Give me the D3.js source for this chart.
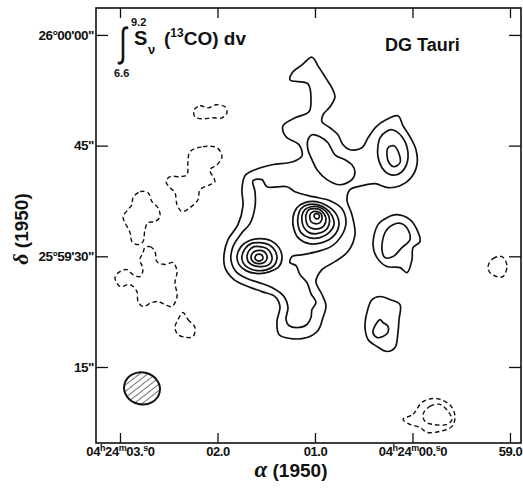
<!DOCTYPE html>
<html><head><meta charset="utf-8">
<script src="https://cdn.jsdelivr.net/npm/d3@7"></script>
<style>
body{margin:0;background:#fff}
svg{display:block}
text{font-family:"Liberation Sans",Arial,Helvetica,sans-serif;fill:#111}
</style>
</head><body>
<svg id="chart" width="523" height="493"></svg>
<script>
// ---- axes ----
const raTicks = [3, 2, 1, 0, -1];                       // seconds of RA past 04h24m
const raTickLabels = ["04h24m03.s0", "02.0", "01.0", "04h24m00.s0", "59.0"];
const decTicks = [15, 30, 45, 60];                       // arcsec past 25°59'00"
const decTickLabels = ['15"', '25°59\'30"', '45"', '26°00\'00"'];
const raExtent = [3.246, -1.113];
const decExtent = [4.7, 63.65];

// ---- positive (solid) contours: [RA s, Dec arcsec] ----
const contourOuter = [[1.031,56.98],[0.969,55.81],[0.897,54.32],[0.826,52.83],[0.795,51.61],[0.846,50.26],[0.918,49.18],[0.928,48.23],[0.846,47.42],[0.764,46.47],[0.713,45.12],[0.641,44.44],[0.518,44.71],[0.456,46.06],[0.374,47.55],[0.272,48.50],[0.149,49.04],[0.097,47.69],[0.026,46.20],[-0.036,44.44],[-0.046,42.41],[0.015,40.65],[0.128,39.57],[0.251,39.30],[0.385,39.84],[0.518,39.57],[0.641,39.03],[0.672,37.67],[0.621,35.64],[0.590,32.94],[0.662,30.64],[0.795,29.28],[0.928,28.20],[0.990,26.58],[0.928,24.82],[0.887,23.33],[0.918,21.70],[0.969,19.95],[1.082,19.00],[1.256,18.86],[1.369,19.40],[1.390,21.16],[1.359,23.20],[1.410,24.55],[1.544,25.22],[1.687,25.91],[1.831,26.85],[1.923,28.47],[1.933,30.23],[1.892,32.26],[1.790,34.29],[1.738,36.86],[1.749,39.03],[1.718,40.92],[1.615,41.73],[1.441,42.41],[1.226,42.82],[1.133,43.63],[1.164,45.12],[1.297,46.20],[1.328,47.69],[1.205,48.77],[1.062,49.58],[1.041,51.20],[1.072,53.37],[1.256,53.91],[1.226,55.00],[1.133,55.94]];
const contourSecond = [[1.636,40.24],[1.544,40.39],[1.492,39.43],[1.287,39.43],[1.205,38.76],[1.021,38.08],[0.846,37.54],[0.723,36.45],[0.682,34.56],[0.733,32.67],[0.836,31.31],[0.979,30.64],[1.123,30.23],[1.236,29.96],[1.256,29.15],[1.195,28.74],[1.154,27.52],[1.082,26.44],[1.041,24.95],[0.990,23.74],[1.031,22.79],[1.041,21.70],[1.082,20.76],[1.174,20.35],[1.267,20.62],[1.297,21.43],[1.277,23.06],[1.318,24.55],[1.441,25.76],[1.574,26.44],[1.697,26.98],[1.810,27.93],[1.862,29.55],[1.841,31.31],[1.749,33.21],[1.667,34.42],[1.615,36.72],[1.615,38.76]];
const contourNorthLoop = [[1.072,45.79],[1.031,46.47],[0.949,46.20],[0.867,45.39],[0.795,43.76],[0.692,43.09],[0.621,42.41],[0.590,41.46],[0.621,40.39],[0.744,39.70],[0.877,40.39],[0.979,41.73],[1.031,43.09],[1.072,44.44]];
const centralRings = [
  [[1.226,35.24],[1.185,36.59],[1.103,37.27],[0.990,37.40],[0.877,36.86],[0.785,35.78],[0.754,34.29],[0.805,32.80],[0.928,31.85],[1.062,31.72],[1.164,32.39],[1.215,33.61]],
  [[1.174,35.37],[1.144,36.45],[1.072,37.00],[0.979,37.00],[0.887,36.45],[0.826,35.51],[0.805,34.29],[0.856,33.21],[0.949,32.53],[1.062,32.53],[1.144,33.21],[1.174,34.29]],
  [[1.133,35.51],[1.103,36.32],[1.041,36.72],[0.969,36.72],[0.897,36.18],[0.856,35.37],[0.856,34.29],[0.897,33.48],[0.979,33.07],[1.062,33.21],[1.113,33.88],[1.133,34.70]],
  [[1.092,35.64],[1.062,36.32],[1.010,36.45],[0.949,36.32],[0.908,35.78],[0.887,35.10],[0.908,34.15],[0.959,33.75],[1.021,33.75],[1.072,34.15],[1.092,34.83]],
  [[1.051,35.64],[1.021,36.05],[0.979,36.05],[0.938,35.78],[0.928,35.10],[0.949,34.56],[1.000,34.42],[1.041,34.70]],
  [[1.010,35.51],[0.990,35.78],[0.959,35.64],[0.959,35.24],[0.990,35.10]]
];
const westRings = [
  [[1.800,29.96],[1.759,31.31],[1.677,32.12],[1.564,32.39],[1.451,32.12],[1.369,31.18],[1.338,29.82],[1.369,28.61],[1.462,27.93],[1.585,27.66],[1.708,28.06],[1.779,28.88]],
  [[1.749,29.96],[1.718,31.04],[1.656,31.72],[1.564,31.85],[1.472,31.58],[1.410,30.77],[1.390,29.69],[1.421,28.74],[1.492,28.20],[1.595,28.06],[1.687,28.47],[1.738,29.15]],
  [[1.697,29.82],[1.677,30.77],[1.626,31.31],[1.564,31.31],[1.492,31.04],[1.451,30.37],[1.441,29.55],[1.472,28.88],[1.544,28.61],[1.626,28.74],[1.677,29.15]],
  [[1.656,29.82],[1.636,30.50],[1.595,30.77],[1.544,30.77],[1.503,30.37],[1.492,29.69],[1.523,29.15],[1.585,29.01],[1.636,29.28]],
  [[1.615,29.82],[1.595,30.23],[1.554,30.23],[1.533,29.82],[1.554,29.42],[1.595,29.42]]
];
const northEastRings = [
  [[0.333,46.06],[0.272,46.88],[0.210,47.15],[0.108,46.20],[0.046,44.04],[0.077,42.00],[0.159,41.06],[0.251,41.20],[0.313,42.00],[0.354,43.49],[0.354,44.98]],
  [[0.251,44.71],[0.190,44.98],[0.138,43.90],[0.128,42.68],[0.190,42.14],[0.241,42.68],[0.262,43.76]]
];
const eastRings = [
  [[0.405,31.58],[0.354,34.29],[0.262,35.24],[0.159,35.64],[0.026,34.97],[-0.046,33.61],[-0.077,31.99],[-0.005,31.18],[0.005,29.55],[0.056,27.79],[0.128,28.47],[0.262,28.61],[0.364,29.82]],
  [[0.313,30.91],[0.282,33.21],[0.200,34.29],[0.108,34.42],[0.046,33.61],[0.026,32.26],[0.108,31.18],[0.200,29.96],[0.282,29.82]]
];
const southEastRings = [
  [[0.467,22.38],[0.415,24.14],[0.333,24.55],[0.231,24.14],[0.128,23.46],[0.138,21.43],[0.149,19.68],[0.179,17.64],[0.262,17.10],[0.364,17.78],[0.456,18.73],[0.487,20.49]],
  [[0.405,19.68],[0.364,21.03],[0.333,21.43],[0.303,21.03],[0.251,20.49],[0.251,19.68],[0.303,19.13],[0.364,19.00]]
];

// ---- negative (dashed) contours ----
const negContours = [
  [[2.241,49.85],[2.179,50.39],[2.097,50.12],[2.015,50.53],[1.923,50.26],[1.903,49.45],[1.954,48.77],[2.056,48.77],[2.149,48.63],[2.231,48.91]],
  [[2.282,44.17],[2.149,44.86],[2.005,44.71],[1.954,43.49],[2.005,42.41],[2.077,41.73],[2.026,40.11],[2.077,39.70],[2.179,39.03],[2.200,37.67],[2.282,36.59],[2.364,36.05],[2.415,37.00],[2.436,38.62],[2.487,39.30],[2.528,40.11],[2.487,40.79],[2.385,40.79],[2.313,41.06],[2.303,42.68]],
  [[2.867,37.94],[2.795,38.76],[2.713,38.62],[2.672,37.40],[2.610,36.59],[2.590,35.37],[2.641,34.70],[2.713,34.56],[2.744,33.61],[2.764,31.99],[2.815,31.58],[2.877,31.99],[2.897,33.21],[2.949,34.56],[2.969,35.37],[2.918,36.32],[2.877,37.00]],
  [[2.744,31.18],[2.692,31.31],[2.641,30.64],[2.621,29.28],[2.538,28.88],[2.456,29.15],[2.415,27.93],[2.436,26.44],[2.415,24.55],[2.467,23.20],[2.538,23.46],[2.610,23.87],[2.672,23.74],[2.764,23.20],[2.815,23.87],[2.826,25.22],[2.897,26.18],[3.000,25.91],[3.051,27.12],[3.000,27.93],[2.928,28.20],[2.867,27.52],[2.795,27.25],[2.764,28.20],[2.795,29.55],[2.764,30.50]],
  [[2.354,22.38],[2.303,21.43],[2.231,20.35],[2.251,19.13],[2.313,19.00],[2.405,19.40],[2.436,20.35],[2.405,21.43]],
  [[-0.774,28.61],[-0.826,29.69],[-0.918,29.96],[-0.969,28.74],[-0.928,27.25],[-0.867,27.25],[-0.795,27.79]],
  [[0.097,7.90],[-0.005,8.59],[-0.097,10.20],[-0.210,10.74],[-0.313,10.47],[-0.405,9.53],[-0.436,8.18],[-0.405,6.95],[-0.282,6.28],[-0.149,6.14],[-0.077,6.82],[0.026,7.22]],
  [[-0.108,8.59],[-0.179,9.66],[-0.282,9.93],[-0.364,8.99],[-0.405,7.90],[-0.354,7.22],[-0.210,7.22],[-0.128,7.64]]
];

// ---- beam ----
const beamCenter = [2.774, 12.10];   // RA s, Dec arcsec
const beamHalfAxes = [0.185, 2.17];  // RA s, Dec arcsec
const beamAngle = 12;

// ================= drawing =================
const svg = d3.select("#chart");
const x = d3.scaleLinear().domain(raExtent).range([96, 521]);
const y = d3.scaleLinear().domain(decExtent).range([443, 8]);

const solid = [contourOuter, contourSecond, contourNorthLoop, ...centralRings, ...westRings,
               ...northEastRings, ...eastRings, ...southEastRings];

const line = d3.line().x(d => x(d[0])).y(d => y(d[1]))
  .curve(d3.curveCatmullRomClosed.alpha(0.5));

const g = svg.append("g");
g.selectAll("path.pos").data(solid).join("path")
  .attr("class", "pos").attr("d", line)
  .attr("fill", "none").attr("stroke", "#111").attr("stroke-width", 1.7)
  .attr("stroke-linejoin", "round");
g.selectAll("path.neg").data(negContours).join("path")
  .attr("class", "neg").attr("d", line)
  .attr("fill", "none").attr("stroke", "#111").attr("stroke-width", 1.4)
  .attr("stroke-dasharray", "4.5,3");

// beam with hatching
const defs = svg.append("defs");
const pat = defs.append("pattern").attr("id", "hatch").attr("patternUnits", "userSpaceOnUse")
  .attr("width", 5).attr("height", 5).attr("patternTransform", "rotate(40)");
pat.append("line").attr("x1", 0).attr("y1", 0).attr("x2", 0).attr("y2", 5)
  .attr("stroke", "#111").attr("stroke-width", 1.2);
const bx = x(beamCenter[0]), by = y(beamCenter[1]);
svg.append("ellipse")
  .attr("cx", bx).attr("cy", by)
  .attr("rx", Math.abs(x(beamCenter[0] - beamHalfAxes[0]) - bx))
  .attr("ry", Math.abs(y(beamCenter[1] + beamHalfAxes[1]) - by))
  .attr("transform", `rotate(${beamAngle},${bx},${by})`)
  .attr("fill", "url(#hatch)").attr("stroke", "#111").attr("stroke-width", 2);

// frame
svg.append("rect")
  .attr("x", x(raExtent[0])).attr("y", y(decExtent[1]))
  .attr("width", x(raExtent[1]) - x(raExtent[0]))
  .attr("height", y(decExtent[0]) - y(decExtent[1]))
  .attr("fill", "none").attr("stroke", "#111").attr("stroke-width", 1.6);

// axes
function styleAxis(sel) {
  sel.select(".domain").remove();
  sel.selectAll(".tick line").attr("stroke", "#111").attr("stroke-width", 1.3);
}
const axB = svg.append("g").attr("transform", `translate(0,${y(decExtent[0])})`)
  .call(d3.axisBottom(x).tickValues(raTicks).tickSizeInner(-10).tickSizeOuter(0).tickFormat(""))
  .call(styleAxis);
svg.append("g").attr("transform", `translate(0,${y(decExtent[1])})`)
  .call(d3.axisTop(x).tickValues(raTicks).tickSizeInner(-10).tickSizeOuter(0).tickFormat(""))
  .call(styleAxis);
const axL = svg.append("g").attr("transform", `translate(${x(raExtent[0])},0)`)
  .call(d3.axisLeft(y).tickValues(decTicks).tickSizeInner(-12).tickSizeOuter(0).tickPadding(2)
    .tickFormat((d, i) => decTickLabels[i]))
  .call(styleAxis);
svg.append("g").attr("transform", `translate(${x(raExtent[1])},0)`)
  .call(d3.axisRight(y).tickValues(decTicks).tickSizeInner(-12).tickSizeOuter(0).tickFormat(""))
  .call(styleAxis);

axL.selectAll(".tick text")
  .attr("font-family", '"Liberation Sans",Arial,sans-serif')
  .attr("font-size", 13.5).attr("font-weight", "bold").attr("letter-spacing", -0.5)
  .attr("fill", "#111");

// bottom tick labels with raised h/m/s
axB.selectAll(".tick text").remove();
axB.selectAll(".tick").each(function (d, i) {
  const t = d3.select(this).append("text")
    .attr("y", 13).attr("text-anchor", "middle")
    .attr("font-size", 13).attr("font-weight", "bold").attr("letter-spacing", -0.4)
    .attr("fill", "#111");
  const s = raTickLabels[i];
  let buf = "", pendingDy = 0;
  const flush = () => {
    if (buf) {
      const sp = t.append("tspan").text(buf);
      if (pendingDy) sp.attr("dy", pendingDy);
      pendingDy = 0; buf = "";
    }
  };
  for (const ch of s) {
    if (ch === "h" || ch === "m" || ch === "s") {
      flush();
      t.append("tspan").attr("font-size", 9).attr("dy", -5).text(ch);
      pendingDy = 5;
    } else buf += ch;
  }
  flush();
});

// axis titles
const ta = svg.append("text").attr("x", 291).attr("y", 477).attr("text-anchor", "middle")
  .attr("font-size", 19).attr("font-weight", "bold");
ta.append("tspan").attr("font-family", '"Liberation Serif","Times New Roman",serif')
  .attr("font-style", "italic").attr("font-size", 23).text("α");
ta.append("tspan").text("  (1950)");

const td = svg.append("text").attr("transform", "translate(28,229) rotate(-90)")
  .attr("text-anchor", "middle").attr("font-size", 19).attr("font-weight", "bold");
td.append("tspan").attr("font-family", '"Liberation Serif","Times New Roman",serif')
  .attr("font-style", "italic").attr("font-size", 22).text("δ");
td.append("tspan").text(" (1950)");

// annotations
svg.append("text").attr("transform", "translate(119,56) scale(1,1.45)")
  .attr("font-family", '"DejaVu Sans",sans-serif').attr("font-size", 28).text("∫");
svg.append("text").attr("x", 131).attr("y", 26).attr("font-size", 11).attr("font-weight", "bold").text("9.2");
svg.append("text").attr("x", 114).attr("y", 77).attr("font-size", 11).attr("font-weight", "bold").text("6.6");
svg.append("text").attr("x", 134).attr("y", 45).attr("font-size", 20).attr("font-weight", "bold").text("S");
svg.append("text").attr("x", 148).attr("y", 54).attr("font-size", 13).attr("font-weight", "bold")
  .attr("font-family", '"DejaVu Sans",sans-serif').text("ν");
const tt = svg.append("text").attr("x", 164).attr("y", 45).attr("font-size", 19).attr("font-weight", "bold");
tt.append("tspan").text("(");
tt.append("tspan").attr("font-size", 12).attr("dy", -8).text("13");
tt.append("tspan").attr("dy", 8).text("CO) dv");
svg.append("text").attr("x", 385).attr("y", 51).attr("font-size", 18).attr("font-weight", "bold").text("DG Tauri");
</script>
</body></html>
